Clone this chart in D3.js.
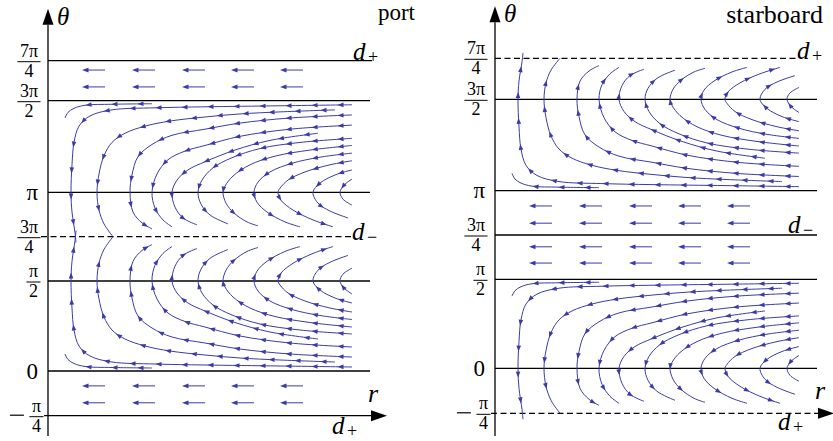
<!DOCTYPE html>
<html><head><meta charset="utf-8">
<script src="https://cdn.jsdelivr.net/npm/d3@7"></script>
<style>body{margin:0;background:#fff}svg{display:block}</style>
</head><body>
<svg id="c" width="833" height="441"></svg>
<script>
// ---------------- DATA ----------------
// theta values in degrees (π/4 = 45°), r in arbitrary units along the r axis
const tickValues = [-45, 0, 90, 135, 180, 270, 315];
const tickLabels = ["−π/4", "0", "π/2", "3π/4", "π", "3π/2", "7π/4"];
const portDashed = [135];
const starDashed = [315, -45];
// streamline family: [r, Δθ from the turning line] (Δθ>0 toward the asymptote line)
const streamA  = [[104,87],[64,86.5],[37,85.5],[26,82.5],[20,78.5],[17,73]];
const stream1  = [[304,86],[232,85],[157,84],[107,83],[64,81],[42,75],[31,65],[26,49],[24,27],[23,0],[24,-20],[27,-41],[28,-51]];
const stream2  = [[287,81],[232,79],[192,77],[157,74],[122,70],[97,65],[77,58],[64,49],[56,36],[51,18],[49,0],[51,-18],[56,-32],[65,-45]];
const stream3  = [[304,76],[242,73],[192,68],[157,62],[124,56],[104,47],[90,35],[84,17],[82,0],[85,-20],[94,-31],[104,-37]];
const stream4  = [[304,66],[242,62],[192,55],[157,46],[137,40.5],[120,32],[109,18],[104,0],[107,-16],[115,-28],[124,-35]];
const stream5  = [[270,58],[222,51],[187,41.5],[157,30],[140,22],[129,12],[124,0],[127,-15],[135,-26],[149,-33]];
const stream6  = [[304,53],[252,49],[212,43],[184,34],[165,24],[154,12],[150,0],[153,-12],[162,-23],[180,-32]];
const stream7  = [[304,46],[262,41.5],[227,35.5],[202,27],[185,16],[177,6],[175,0],[178,-11],[186,-21],[199,-30],[210,-34]];
const stream8  = [[304,38.5],[272,34.5],[244,28.5],[222,20],[210,10],[206,0],[209,-10],[219,-20],[237,-30],[252,-35]];
const stream9  = [[304,31],[282,27],[257,20],[240,12],[232,4],[230,0],[233,-8],[245,-18],[265,-28],[285,-35]];
const stream10 = [[304,22],[287,17],[272,9],[265,0],[270,-11],[282,-19],[300,-26]];
const stream11 = [[304,13],[296,7],[292,0],[295,-7],[304,-13]];
const streamlines = [streamA, stream1, stream2, stream3, stream4, stream5, stream6, stream7, stream8, stream9, stream10, stream11];
// each group: turning line (deg) and orientation of Δθ
const portGroups = [{turn: 180, dir: 1}, {turn: 90, dir: -1}];
const starGroups = [{turn: 270, dir: -1}, {turn: 0, dir: 1}];
// uniform-flow rows (deg) and arrow head positions (r)
const portArrowRows = [304.5, 285.5, -15, -32];
const starArrowRows = [164.5, 147, 123, 106.5];
const arrowR = [34, 84, 134, 183, 232];

// ---------------- DRAWING ----------------
const svg = d3.select("#c");
const BLUE = "#3b3ba8";
const SERIF = "'Liberation Serif', 'DejaVu Serif', serif";

const panels = [
  {title: "port", axisX: 48, xr: [48, 370], yr: [415.7, 371, 281, 236.7, 192.3, 100.7, 60.7],
   groups: portGroups, rows: portArrowRows, dashed: portDashed, titleX: 415, titleY: 20, titleFs: 23},
  {title: "starboard", axisX: 495, xr: [495, 817], yr: [413.3, 368.3, 279.3, 235, 190.7, 99.3, 58.3],
   groups: starGroups, rows: starArrowRows, dashed: starDashed, titleX: 823, titleY: 23, titleFs: 26}
];

function head(g, x, y, ang, len, hw, color) {
  const ca = Math.cos(ang), sa = Math.sin(ang);
  const bx = x - ca * len, by = y - sa * len;
  g.append("path")
    .attr("d", `M${x},${y}L${bx - sa * hw},${by + ca * hw}L${bx + sa * hw},${by - ca * hw}Z`)
    .attr("fill", color);
}

panels.forEach((P, pi) => {
  const x = d3.scaleLinear().domain([0, 322]).range(P.xr);
  const y = d3.scaleLinear().domain(tickValues).range(P.yr);
  const g = svg.append("g");
  const ax = P.axisX;

  // horizontal reference lines
  tickValues.forEach(v => {
    if (v === -45) return;
    const dashed = P.dashed.includes(v);
    let x0 = ax, x1 = x(322);
    if (dashed) { x1 = x(304); if (pi === 0) x0 = ax - 7; }
    if (v === 315 && pi === 0) x1 = x(324);
    g.append("line").attr("x1", x0).attr("x2", x1).attr("y1", y(v)).attr("y2", y(v))
      .attr("stroke", "#000").attr("stroke-width", 1.3)
      .attr("stroke-dasharray", dashed ? "6,3.5" : null);
  });

  // r axis (at -π/4)
  const ry = y(-45);
  const rDashed = P.dashed.includes(-45);
  g.append("line").attr("x1", ax - 4).attr("x2", x(322) + 3).attr("y1", ry).attr("y2", ry)
    .attr("stroke", "#000").attr("stroke-width", 1.3)
    .attr("stroke-dasharray", rDashed ? "6,3.5" : null);
  head(g, x(322) + 17, ry, 0, 16, 5.5, "#000");

  // theta axis
  g.append("line").attr("x1", ax).attr("x2", ax).attr("y1", 436).attr("y2", y(315) - 36)
    .attr("stroke", "#000").attr("stroke-width", 1.3);
  head(g, ax, y(315) - 52, -Math.PI / 2, 16, 5.5, "#000");

  // streamlines
  const line = d3.line().x(d => d[0]).y(d => d[1]).curve(d3.curveCatmullRom.alpha(0.5));
  P.groups.forEach(gr => {
    streamlines.forEach(s => {
      const pts = s.map(p => [x(p[0]), y(gr.turn + gr.dir * p[1])]);
      const path = g.append("path").attr("d", line(pts)).attr("fill", "none")
        .attr("stroke", BLUE).attr("stroke-width", 1);
      const node = path.node();
      const L = node.getTotalLength();
      for (let l = 13; l < L - 5; l += 26) {
        const a = node.getPointAtLength(Math.max(0, l - 1.5));
        const b = node.getPointAtLength(Math.min(L, l + 1.5));
        head(g, b.x, b.y, Math.atan2(b.y - a.y, b.x - a.x), 6, 2.3, BLUE);
      }
    });
  });

  // uniform flow arrows
  P.rows.forEach(t => {
    arrowR.forEach(r => {
      g.append("line").attr("x1", x(r) + 3).attr("x2", x(r + 23)).attr("y1", y(t)).attr("y2", y(t))
        .attr("stroke", BLUE).attr("stroke-width", 1);
      head(g, x(r), y(t), Math.PI, 6.5, 2.4, BLUE);
    });
  });

  // tick labels
  tickValues.forEach((v, i) => {
    const lab = tickLabels[i];
    const ty = y(v);
    const fs = 18;
    if (lab.includes("/")) {
      const neg = lab.startsWith("−");
      const [num, den] = (neg ? lab.slice(1) : lab).split("/");
      const tmp = g.append("text").attr("font-family", SERIF).attr("font-size", fs).text(num);
      const w = tmp.node().getComputedTextLength(); tmp.remove();
      const right = ax - (neg ? 5 : 8);
      const cx = right - w / 2 - 2;
      g.append("text").attr("x", cx).attr("y", ty - 4).attr("text-anchor", "middle")
        .attr("font-family", SERIF).attr("font-size", fs).text(num);
      g.append("text").attr("x", cx).attr("y", ty + 16).attr("text-anchor", "middle")
        .attr("font-family", SERIF).attr("font-size", fs).text(den);
      g.append("line").attr("x1", cx - w / 2 - 2.5).attr("x2", cx + w / 2 + 2.5)
        .attr("y1", ty + 1).attr("y2", ty + 1).attr("stroke", "#000").attr("stroke-width", 1);
      if (neg) {
        g.append("line").attr("x1", cx - w / 2 - 22).attr("x2", cx - w / 2 - 8)
          .attr("y1", ty - 0.5).attr("y2", ty - 0.5).attr("stroke", "#000").attr("stroke-width", 1.2);
      }
    } else {
      g.append("text").attr("x", ax - 10).attr("y", ty + 7.5).attr("text-anchor", "end")
        .attr("font-family", SERIF).attr("font-size", 23).text(lab);
    }
  });

  // axis titles and labels
  const it = (tx, ty, s, fs) => g.append("text").attr("x", tx).attr("y", ty)
    .attr("font-family", SERIF).attr("font-style", "italic").attr("font-size", fs || 25).text(s);
  const dl = (tx, ty, sub) => {
    it(tx, ty, "d");
    g.append("text").attr("x", tx + 15).attr("y", ty + 3).attr("font-family", SERIF)
      .attr("font-size", 18).text(sub);
  };
  it(ax + 9, y(315) - 36, "θ");
  it(x(322) - 2, ry - 14, "r", 26);
  g.append("text").attr("x", P.titleX).attr("y", P.titleY).attr("text-anchor", "end")
    .attr("font-family", SERIF).attr("font-size", P.titleFs).text(P.title);
  if (pi === 0) {
    dl(353, y(315) - 1, "+");
    dl(352, y(135) + 3, "−");
    dl(332, ry + 18, "+");
  } else {
    dl(797, y(315) + 1, "+");
    dl(788, y(135) - 2, "−");
    dl(778, ry + 17, "+");
  }
});
</script>
</body></html>
